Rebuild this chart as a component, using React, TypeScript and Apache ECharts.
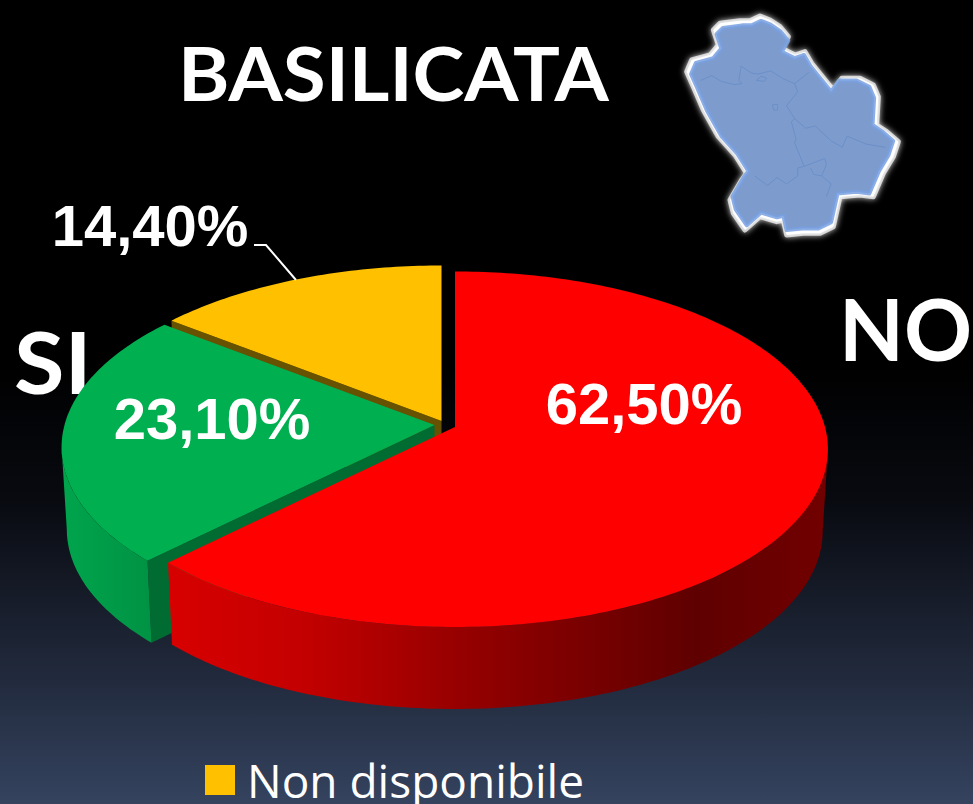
import React, { useEffect, useRef } from "react";
import * as echarts from "echarts";

const categories = ["NO", "SI", "Non disponibile"];
const values = [62.5, 23.1, 14.4];
const topColors = ["#ff0000", "#00b050", "#ffc000"];
const cutColors = ["#8a0000", "#006c31", "#665200"];
const wallStops: [number, string][][] = [
  [[0, "#d80000"], [0.2, "#c40000"], [0.45, "#950000"], [0.8, "#5f0000"], [1, "#720000"]],
  [[0, "#00a54c"], [1, "#009244"]],
  [[0, "#665200"], [1, "#665200"]],
];
const apexes = [[455, 427], [434.5, 425], [441.5, 421]];
const labelPos = [[644, 403], [212, 418], [150, 225]];
const labelColors = ["#ffffff", "#ffffff", "#ffffff"];

const PROJ = { k: 0.125, a: 175, b: 370, depth: 82, shrink: 0.986 };
const SILHOUETTE = Math.acos(-PROJ.k) * (180 / Math.PI);

function rim(apex: number[], deg: number, lower: boolean): number[] {
  const t = (deg * Math.PI) / 180;
  const u = Math.sin(t);
  const v = -Math.cos(t);
  const w = 1 - PROJ.k * v;
  const s = lower ? PROJ.shrink : 1;
  return [
    apex[0] + (PROJ.b * u * s) / w,
    apex[1] + (PROJ.a * v) / w + (lower ? PROJ.depth : 0),
  ];
}

function arcPoints(apex: number[], a0: number, a1: number, lower: boolean): number[][] {
  const n = Math.max(2, Math.ceil(Math.abs(a1 - a0)));
  const pts: number[][] = [];
  for (let i = 0; i <= n; i++) pts.push(rim(apex, a0 + ((a1 - a0) * i) / n, lower));
  return pts;
}

const total = values.reduce((a, b) => a + b, 0);

function sliceRenderer(index: number) {
  let cum = 0;
  for (let i = 0; i < index; i++) cum += values[i];
  return (_params: any, api: any) => {
    const value = api.value(0) as number;
    const start = (cum / total) * 360;
    const end = ((cum + value) / total) * 360;
    const apex = apexes[index];
    const children: any[] = [];
    const lowerApex = [apex[0], apex[1] + PROJ.depth];

    if (index > 0) {
      const tip = rim(apex, start, false);
      const tipLow = rim(apex, start, true);
      children.push({
        type: "polygon",
        shape: { points: [apex, tip, tipLow, lowerApex] },
        style: { fill: cutColors[index] },
      });
    }

    const wallFrom = index === 0 ? SILHOUETTE : start;
    const wallTo = index === 0 ? end : Math.min(end, 360 - SILHOUETTE);
    if (wallTo > wallFrom) {
      const upper = arcPoints(apex, wallFrom, wallTo, false);
      const lower = arcPoints(apex, wallTo, wallFrom, true);
      const x0 = index === 0 ? 168 : 62;
      const x1 = index === 0 ? 828 : 153;
      children.push({
        type: "polygon",
        shape: { points: upper.concat(lower) },
        style: {
          fill: {
            type: "linear", x: x0, y: 0, x2: x1, y2: 0, global: true,
            colorStops: wallStops[index].map(([offset, color]) => ({ offset, color })),
          },
        },
      });
    }

    children.push({
      type: "polygon",
      shape: { points: [apex].concat(arcPoints(apex, start, end, false)) },
      style: { fill: topColors[index] },
    });

    children.push({
      type: "text",
      x: labelPos[index][0],
      y: labelPos[index][1],
      style: {
        text: value.toFixed(2).replace(".", ",") + "%",
        fill: labelColors[index],
        font: 'bold 58px "Liberation Sans", Arial, sans-serif',
        align: "center",
        verticalAlign: "middle",
      },
    });
    return { type: "group", children };
  };
}

const mapOutline = [
  [130,90],[150,70],[210,62],[240,62],[270,48],[300,60],[330,80],[355,110],[335,145],[375,165],[405,155],[425,190],[445,215],
  [490,270],[515,235],[570,235],[610,255],[625,290],[620,375],[650,395],[685,425],[670,470],[640,520],[610,590],
  [570,585],[510,590],[490,680],[450,700],[400,700],[350,705],[340,660],[320,665],[270,650],[225,690],[190,640],[180,600],
  [215,540],[230,520],[195,465],[145,410],[100,330],[70,260],[50,215],[65,180],[120,165],[145,135],
];
const mapLines = [
  [[80,235],[115,220],[145,238],[185,248],[210,245],[200,235],[207,190],[240,212],[260,215],[300,205],[340,230],[375,245],[385,270],[350,315],[375,355],[365,365],[380,420],[375,430],[395,480],[405,505],[385,510],[385,535],[350,560],[320,540],[290,565],[250,535]],
  [[375,245],[420,210]],
  [[375,355],[410,385],[440,378],[490,425],[525,445],[540,410],[600,435],[660,445]],
  [[405,505],[470,480],[475,500],[460,535],[435,530],[425,510]],
  [[460,535],[490,560],[475,600]],
  [[305,312],[322,310],[322,328],[310,328],[305,312]],
  [[255,235],[270,222],[288,228],[280,238],[255,235]],
];
const scaleMap = (p: number[]) => [670 + p[0] / 3, p[1] / 3];
const MAP_CENTER = [785, 125];
const scaleInner = (p: number[]) => {
  const q = scaleMap(p);
  return [MAP_CENTER[0] + (q[0] - MAP_CENTER[0]) * 0.955, MAP_CENTER[1] + (q[1] - MAP_CENTER[1]) * 0.955];
};

export default function App() {
  const ref = useRef<HTMLDivElement>(null);
  useEffect(() => {
    document.body.style.margin = "0";
    const chart = echarts.init(ref.current!, null, { renderer: "svg" });
    chart.setOption({
      animation: false,
      backgroundColor: {
        type: "linear", x: 0, y: 0, x2: 0, y2: 1,
        colorStops: [
          { offset: 0, color: "#000000" },
          { offset: 0.45, color: "#000000" },
          { offset: 0.62, color: "#080a10" },
          { offset: 0.85, color: "#222b3e" },
          { offset: 1, color: "#35435f" },
        ],
      },
      legend: {
        data: ["Non disponibile"],
        left: 205,
        top: 757,
        padding: 0,
        icon: "rect",
        itemWidth: 30,
        itemHeight: 30,
        itemGap: 0,
        selectedMode: false,
        textStyle: { color: "#ffffff", fontSize: 46, fontFamily: "Open Sans", padding: [0, 0, 0, 7] },
      },
      series: [2, 1, 0].map((i) => ({
        type: "custom",
        name: categories[i],
        coordinateSystem: "none",
        silent: true,
        itemStyle: { color: topColors[i] },
        data: [[values[i]]],
        renderItem: sliceRenderer(i),
        z: 2,
      })),
      graphic: [
        {
          type: "text", x: 178, y: 35, scaleX: 1.056,
          style: { text: "BASILICATA", fill: "#fff", font: 'bold 74px Lato' },
        },
        {
          type: "text", x: 839, y: 285, scaleX: 0.98,
          style: { text: "NO", fill: "#fff", font: 'bold 86px Lato' },
        },
        {
          type: "text", x: 14, y: 318, scaleX: 1.07,
          style: { text: "SI", fill: "#fff", font: 'bold 86px Lato' },
        },
        {
          type: "polyline",
          z: 5,
          shape: { points: [[254, 245], [266, 245], [296, 280]] },
          style: { stroke: "#fff", lineWidth: 2, fill: "none" },
        },
        {
          type: "polygon",
          shape: { points: mapOutline.map(scaleMap) },
          style: { fill: "#ffffff", stroke: "rgba(255,255,255,0.7)", lineWidth: 5, shadowBlur: 6, shadowColor: "#ffffff", lineJoin: "round" },
        },
        {
          type: "polygon",
          shape: { points: mapOutline.map(scaleInner) },
          style: { fill: "#7d9ccd", stroke: "rgba(120,160,225,0.85)", lineWidth: 4, lineJoin: "round" },
        },
        ...mapLines.map((l) => ({
          type: "polyline",
          shape: { points: l.map(scaleInner) },
          style: { stroke: "#6b8fc8", lineWidth: 1, fill: "none" },
        })),
      ],
    });
    return () => chart.dispose();
  }, []);
  return <div ref={ref} style={{ width: 973, height: 804, overflow: "hidden" }} />;
}
